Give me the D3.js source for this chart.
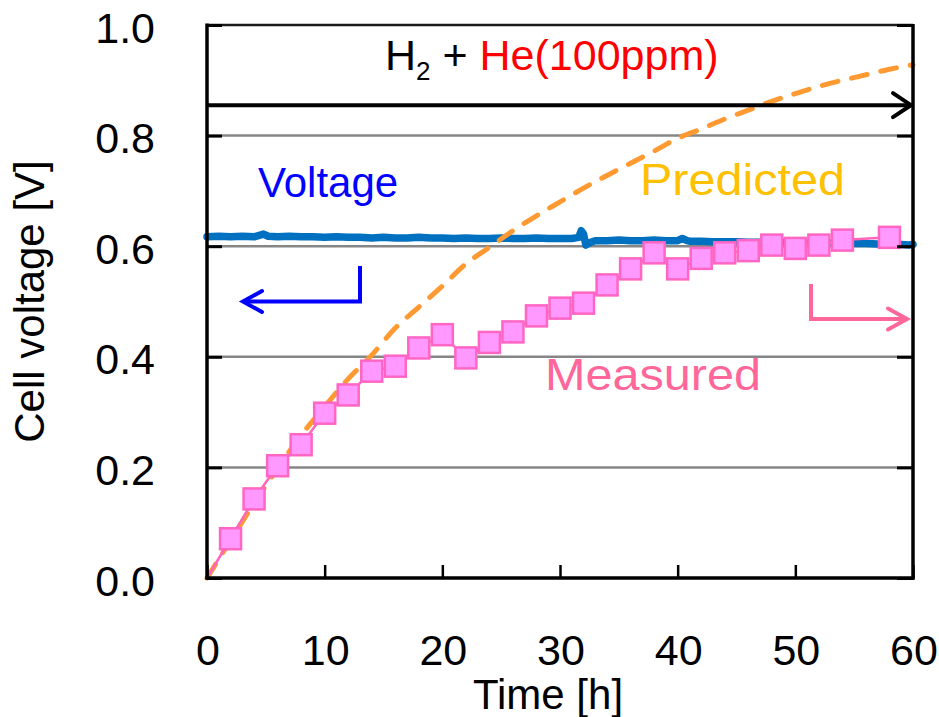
<!DOCTYPE html>
<html>
<head>
<meta charset="utf-8">
<script src="https://cdn.jsdelivr.net/npm/d3@7"></script>
<style>
  html, body { margin: 0; padding: 0; background: #fff; }
  svg { display: block; font-family: "Liberation Sans", Arial, sans-serif; }
</style>
</head>
<body>
<svg id="chart" width="939" height="717"></svg>
<script>
// Time axis ticks [h] and voltage axis ticks [V]
const timeTicks = [0, 10, 20, 30, 40, 50, 60];
const voltTicks = [0.0, 0.2, 0.4, 0.6, 0.8, 1.0];

// Cell voltage trace
const voltageTime = [0, 1, 2, 3, 4, 4.8, 5.2, 6, 7, 8, 9, 10, 11, 12, 13, 14, 15, 16, 17, 18, 19, 20,
  21, 22, 23, 24, 25, 26, 27, 28, 29, 30, 31, 31.6, 31.8, 32.0, 32.2, 32.6, 33, 34, 35, 36, 37, 38, 39,
  40, 40.4, 40.8, 41, 42, 43, 44, 45, 46, 47, 48, 49, 50, 51, 52, 53, 54, 55, 56, 57, 58, 59, 59.6, 60];
const voltageValue = [0.617, 0.618, 0.617, 0.618, 0.617, 0.622, 0.618, 0.617, 0.618, 0.617, 0.617, 0.616,
  0.617, 0.616, 0.616, 0.615, 0.616, 0.615, 0.615, 0.616, 0.615, 0.615, 0.614, 0.615, 0.614, 0.614, 0.615,
  0.614, 0.614, 0.615, 0.614, 0.614, 0.614, 0.616, 0.628, 0.622, 0.602, 0.607, 0.610, 0.610, 0.611, 0.610,
  0.610, 0.611, 0.610, 0.610, 0.614, 0.610, 0.609, 0.609, 0.608, 0.608, 0.608, 0.607, 0.607, 0.606, 0.607,
  0.606, 0.606, 0.605, 0.606, 0.605, 0.605, 0.605, 0.604, 0.604, 0.603, 0.602, 0.603];

// Predicted curve
const predictedTime = [0, 2, 4, 6, 8, 10, 12, 14, 16, 18, 20, 22, 24, 26, 28, 30, 32, 34, 36, 38, 40,
  42, 44, 46, 48, 50, 52, 54, 56, 58, 60];
const predictedValue = [0, 0.068, 0.135, 0.198, 0.258, 0.31, 0.36, 0.403, 0.452, 0.49, 0.528, 0.568,
  0.598, 0.628, 0.655, 0.68, 0.705, 0.728, 0.75, 0.772, 0.795, 0.812, 0.83, 0.846, 0.862, 0.876, 0.889,
  0.9, 0.91, 0.92, 0.928];

// Measured points
const measuredTime = [0, 2, 4, 6, 8, 10, 12, 14, 16, 18, 20, 22, 24, 26, 28, 30, 32, 34, 36, 38, 40,
  42, 44, 46, 48, 50, 52, 54, 58];
const measuredValue = [0, 0.071, 0.143, 0.203, 0.241, 0.298, 0.331, 0.374, 0.383, 0.416, 0.440, 0.398,
  0.426, 0.445, 0.474, 0.488, 0.497, 0.530, 0.559, 0.588, 0.559, 0.578, 0.588, 0.592, 0.602, 0.596,
  0.602, 0.611, 0.616];

// Gas feed period
const feedStart = 0, feedEnd = 60, feedLevel = 0.855;

const svg = d3.select("#chart");
const plotLeft = 207, plotRight = 913, plotTop = 25, plotBottom = 578;

const x = d3.scaleLinear().domain([0, 60]).range([plotLeft, plotRight]);
const y = d3.scaleLinear().domain([0, 1]).range([plotBottom, plotTop]);

// horizontal gridlines
svg.append("g").selectAll("line")
  .data(voltTicks.filter(v => v > 0 && v < 1))
  .join("line")
  .attr("x1", plotLeft).attr("x2", plotRight)
  .attr("y1", d => y(d)).attr("y2", d => y(d))
  .attr("stroke", "#868686").attr("stroke-width", 2.5);

// voltage trace
const voltData = voltageTime.map((t, i) => [t, voltageValue[i]]);
svg.append("path")
  .datum(voltData)
  .attr("fill", "none")
  .attr("stroke", "#0070c0")
  .attr("stroke-width", 7.5)
  .attr("stroke-linejoin", "round")
  .attr("stroke-linecap", "round")
  .attr("d", d3.line().x(d => x(d[0])).y(d => y(d[1])));

// predicted curve
const predData = predictedTime.map((t, i) => [t, predictedValue[i]]);
svg.append("path")
  .datum(predData)
  .attr("fill", "none")
  .attr("stroke", "#ff9a33")
  .attr("stroke-width", 5)
  .attr("stroke-dasharray", "16 14")
  .attr("stroke-linecap", "round")
  .attr("d", d3.line().curve(d3.curveMonotoneX).x(d => x(d[0])).y(d => y(d[1])));

// measured line and markers
const measData = measuredTime.map((t, i) => [t, measuredValue[i]]);
svg.append("path")
  .datum(measData)
  .attr("fill", "none")
  .attr("stroke", "#ff66bb")
  .attr("stroke-width", 2.5)
  .attr("d", d3.line().x(d => x(d[0])).y(d => y(d[1])));

const sq = 21;
svg.append("g").selectAll("rect")
  .data(measData.filter(d => d[0] > 0))
  .join("rect")
  .attr("x", d => x(d[0]) - sq / 2)
  .attr("y", d => y(d[1]) - sq / 2)
  .attr("width", sq).attr("height", sq)
  .attr("fill", "#ff99ff")
  .attr("stroke", "#ff66c4")
  .attr("stroke-width", 2.5);

// frame
svg.append("line").attr("x1", plotLeft).attr("x2", plotRight).attr("y1", plotTop).attr("y2", plotTop)
  .attr("stroke", "#1a1a1a").attr("stroke-width", 2.5);
svg.append("line").attr("x1", plotRight).attr("x2", plotRight).attr("y1", plotTop - 1).attr("y2", plotBottom + 1.5)
  .attr("stroke", "#000").attr("stroke-width", 3.5);

// left axis
const yAxis = svg.append("g").attr("transform", `translate(${plotLeft},0)`)
  .call(d3.axisRight(y).tickValues(voltTicks).tickSize(15).tickFormat(""));
yAxis.select(".domain").attr("stroke", "#000").attr("stroke-width", 3.5)
  .attr("d", `M0,${plotTop - 1.5}V${plotBottom + 1.5}`);
yAxis.selectAll(".tick line").attr("stroke", "#000").attr("stroke-width", 3);

// right-side inner ticks
const yAxisR = svg.append("g").attr("transform", `translate(${plotRight},0)`)
  .call(d3.axisLeft(y).tickValues(voltTicks).tickSize(16).tickFormat(""));
yAxisR.select(".domain").remove();
yAxisR.selectAll(".tick line").attr("stroke", "#000").attr("stroke-width", 3);

// bottom axis
const xAxis = svg.append("g").attr("transform", `translate(0,${plotBottom})`)
  .call(d3.axisTop(x).tickValues(timeTicks).tickSize(13).tickFormat(""));
xAxis.select(".domain").attr("stroke", "#000").attr("stroke-width", 3.5)
  .attr("d", `M${plotLeft - 1.5},0H${plotRight + 1.5}`);
xAxis.selectAll(".tick line").attr("stroke", "#000").attr("stroke-width", 2.5);

// tick labels
svg.append("g").selectAll("text")
  .data(voltTicks)
  .join("text")
  .attr("x", 155)
  .attr("y", d => y(d) + 17.5)
  .attr("text-anchor", "end")
  .attr("font-size", 43)
  .attr("fill", "#000")
  .text(d => d3.format(".1f")(d));

svg.append("g").selectAll("text")
  .data(timeTicks)
  .join("text")
  .attr("x", d => x(d) + 1)
  .attr("y", 665)
  .attr("text-anchor", "middle")
  .attr("font-size", 43)
  .attr("fill", "#000")
  .text(d => d);

// axis titles
svg.append("text")
  .attr("x", 548).attr("y", 709)
  .attr("text-anchor", "middle")
  .attr("font-size", 42)
  .text("Time [h]");

svg.append("text")
  .attr("transform", `translate(44,${(plotTop + plotBottom) / 2}) rotate(-90)`)
  .attr("text-anchor", "middle")
  .attr("font-size", 42)
  .text("Cell voltage [V]");

// gas feed label and arrow
const gas = svg.append("text").attr("x", 385).attr("y", 70).attr("font-size", 43);
gas.append("tspan").attr("fill", "#000").text("H");
gas.append("tspan").attr("fill", "#000").attr("font-size", 26).attr("dy", 10).text("2");
gas.append("tspan").attr("fill", "#000").attr("dy", -10).text(" + ");
gas.append("tspan").attr("fill", "#ff0000").text("He(100ppm)");

const fy = y(feedLevel);
svg.append("line")
  .attr("x1", x(feedStart)).attr("x2", x(feedEnd) - 2)
  .attr("y1", fy).attr("y2", fy)
  .attr("stroke", "#000").attr("stroke-width", 4);
svg.append("path")
  .attr("d", `M${x(feedEnd) - 20},${fy - 12}L${x(feedEnd) - 2},${fy}L${x(feedEnd) - 20},${fy + 12}`)
  .attr("fill", "none").attr("stroke", "#000").attr("stroke-width", 4)
  .attr("stroke-linecap", "round").attr("stroke-linejoin", "miter");

// series labels
svg.append("text").attr("x", 258).attr("y", 197).attr("font-size", 42)
  .attr("fill", "#0000ff").text("Voltage");
svg.append("text").attr("x", 640).attr("y", 195).attr("font-size", 45)
  .attr("textLength", 205).attr("lengthAdjust", "spacingAndGlyphs")
  .attr("fill", "#ffc000").text("Predicted");
svg.append("text").attr("x", 545).attr("y", 390).attr("font-size", 45)
  .attr("textLength", 216).attr("lengthAdjust", "spacingAndGlyphs")
  .attr("fill", "#ff6699").text("Measured");

// axis-pointer arrows
svg.append("path")
  .attr("d", "M360,266V301.5H243")
  .attr("fill", "none").attr("stroke", "#0000ff").attr("stroke-width", 4);
svg.append("path")
  .attr("d", "M262,291L243,301.5L262,312")
  .attr("fill", "none").attr("stroke", "#0000ff").attr("stroke-width", 4)
  .attr("stroke-linecap", "round");

svg.append("path")
  .attr("d", "M811,284V319H907")
  .attr("fill", "none").attr("stroke", "#ff6699").attr("stroke-width", 4);
svg.append("path")
  .attr("d", "M888,308.5L907,319L888,329.5")
  .attr("fill", "none").attr("stroke", "#ff6699").attr("stroke-width", 4)
  .attr("stroke-linecap", "round");
</script>
</body>
</html>
